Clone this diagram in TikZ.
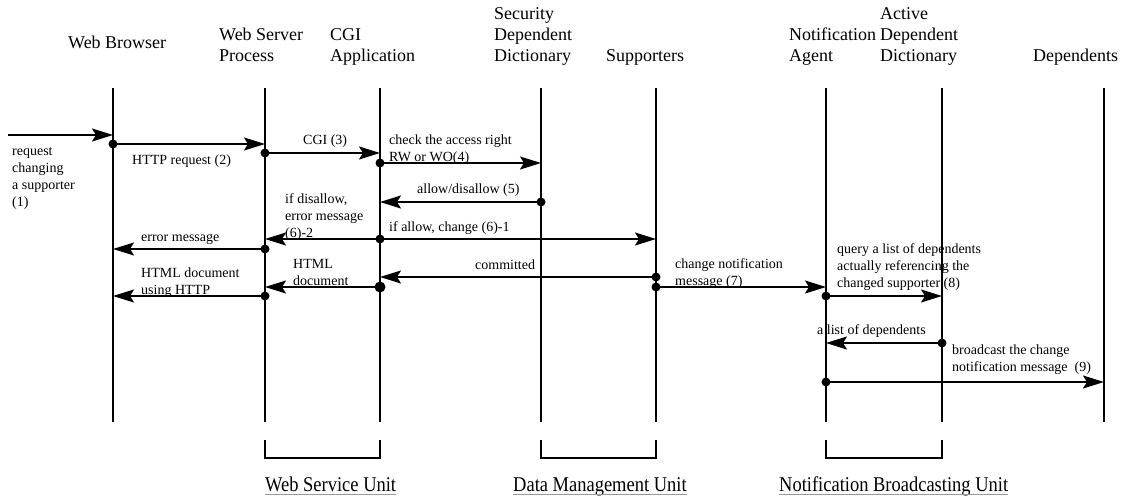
\documentclass[tikz,border=0pt]{standalone}
\usepackage{fontspec}
\setmainfont{Liberation Serif}
\usetikzlibrary{arrows.meta}
\begin{document}
\begin{tikzpicture}[x=1pt,y=-1pt,
  lifeline/.style={line width=1.8pt},
  msg/.style={line width=1.8pt,-{Stealth[length=21pt,width=13pt,inset=4pt]}},
  dot/.style={circle,fill,inner sep=0pt,minimum size=9pt},
  bigdot/.style={dot,minimum size=11pt},
  head/.style={font=\fontsize{18}{21}\selectfont,align=left,inner sep=0pt,anchor=base west},
  lbl/.style={font=\fontsize{14}{17}\selectfont,align=left,inner sep=0pt,anchor=base west},
  unitlbl/.style={font=\fontsize{21}{24}\selectfont,inner sep=0pt,anchor=base west},
  bracket/.style={line width=1.5pt},
  uline/.style={draw=black!40,line width=0.9pt}
]
\useasboundingbox (0,0) rectangle (1124,497);

% lifeline heads (top ends)
\coordinate (WB) at (113,88);
\coordinate (WS) at (265,88);
\coordinate (CG) at (380,88);
\coordinate (SD) at (541,88);
\coordinate (SU) at (656,88);
\coordinate (NA) at (826,88);
\coordinate (AD) at (942,88);
\coordinate (DE) at (1104,88);

% lifeline bottoms
\foreach \n in {WB,WS,CG,SD,SU,NA,AD,DE}
  \coordinate (\n-end) at (\n |- 0,422);
\foreach \n in {WB,WS,CG,SD,SU,NA,AD,DE}
  \draw[lifeline] (\n) -- (\n-end);

% participant names (anchored at the baseline of the last line)
\node[head] (hWB) at (68,49)  {Web Browser};
\node[head] (hWS) at (219,62) {Web Server\\Process};
\node[head] (hCG) at (330,62) {CGI\\Application};
\node[head] (hSD) at (494,62) {Security\\Dependent\\Dictionary};
\node[head] (hSU) at (606,62) {Supporters};
\node[head] (hNA) at (789,62) {Notification\\Agent};
\node[head] (hAD) at (880,62) {Active\\Dependent\\Dictionary};
\node[head] (hDE) at (1033,62) {Dependents};

% (1) incoming request
\coordinate (src) at (8,135);
\draw[msg] (src) -- (WB |- src);
\node[lbl] (l1) at (12,207) {request\\changing\\a supporter\\(1)};

% (2) HTTP request
\node[dot] (d2) at (WB |- 0,144) {};
\draw[msg] (d2.center) -- (WS |- d2);
\node[lbl] (l2) at (132,164.5) {HTTP request (2)};

% (3) CGI
\node[dot] (d3) at (WS |- 0,153) {};
\draw[msg] (d3.center) -- (CG |- d3);
\node[lbl] (l3) at (303,144.5) {CGI (3)};

% (4) access right check
\node[dot] (d4) at (CG |- 0,163) {};
\draw[msg] (d4.center) -- (SD |- d4);
\node[lbl] (l4) at (389,162) {check the access right\\RW or WO(4)};

% (5) allow / disallow
\node[dot] (d5) at (SD |- 0,202) {};
\draw[msg] (d5.center) -- (CG |- d5);
\node[lbl] (l5) at (417,193.5) {allow/disallow (5)};

% (6)-1 change, (6)-2 error
\node[dot] (d6) at (CG |- 0,239) {};
\draw[msg] (d6.center) -- (SU |- d6);
\draw[msg] (d6.center) -- (WS |- d6);
\node[lbl] (l61) at (389,231.5) {if allow, change (6)-1};
\node[lbl] (l62) at (285,237.5) {if disallow,\\error message\\(6)-2};

% error message back to the browser
\node[dot] (de) at (WS |- 0,249) {};
\draw[msg] (de.center) -- (WB |- de);
\node[lbl] (le) at (141,241.5) {error message};

% committed
\node[dot] (dc) at (SU |- 0,277) {};
\draw[msg] (dc.center) -- (CG |- dc);
\node[lbl] (lc) at (475,269.5) {committed};

% HTML document
\node[bigdot] (dh) at (CG |- 0,287) {};
\draw[msg] (dh.center) -- (WS |- dh);
\node[lbl] (lh) at (293,285) {HTML\\document};

% HTML document using HTTP
\node[dot] (dhh) at (WS |- 0,296) {};
\draw[msg] (dhh.center) -- (WB |- dhh);
\node[lbl] (lhh) at (141,294.5) {HTML document\\using HTTP};

% (7) change notification
\node[dot] (d7) at (SU |- 0,287) {};
\draw[msg] (d7.center) -- (NA |- d7);
\node[lbl] (l7) at (675,285.5) {change notification\\message (7)};

% (8) query dependents
\node[dot] (d8) at (NA |- 0,296) {};
\draw[msg] (d8.center) -- (AD |- d8);
\node[lbl] (l8) at (837,287.5) {query a list of dependents\\actually referencing the\\changed supporter (8)};

% list of dependents
\node[dot] (dl) at (AD |- 0,343) {};
\draw[msg] (dl.center) -- (NA |- dl);
\node[lbl] (ll) at (817,334.5) {a list of dependents};

% (9) broadcast
\node[dot] (d9) at (NA |- 0,382) {};
\draw[msg] (d9.center) -- (DE |- d9);
\node[lbl] (l9) at (952,371.5) {broadcast the change\\notification message~~(9)};

% unit brackets
\draw[bracket] (WS |- 0,440) -- (WS |- 0,458) -- (CG |- 0,458) -- (CG |- 0,440);
\draw[bracket] (SD |- 0,440) -- (SD |- 0,458) -- (SU |- 0,458) -- (SU |- 0,440);
\draw[bracket] (NA |- 0,440) -- (NA |- 0,458) -- (AD |- 0,458) -- (AD |- 0,440);

% unit names, underlined
\node[unitlbl] (u1) at (265,491) {\scalebox{0.88}[1]{Web Service Unit}};
\node[unitlbl] (u2) at (513,491) {\scalebox{0.88}[1]{Data Management Unit}};
\node[unitlbl] (u3) at (779,491) {\scalebox{0.88}[1]{Notification Broadcasting Unit}};
\foreach \u in {u1,u2,u3}
  \draw[uline] (\u.base west |- 0,494.5) -- (\u.base east |- 0,494.5);
\end{tikzpicture}
\end{document}
